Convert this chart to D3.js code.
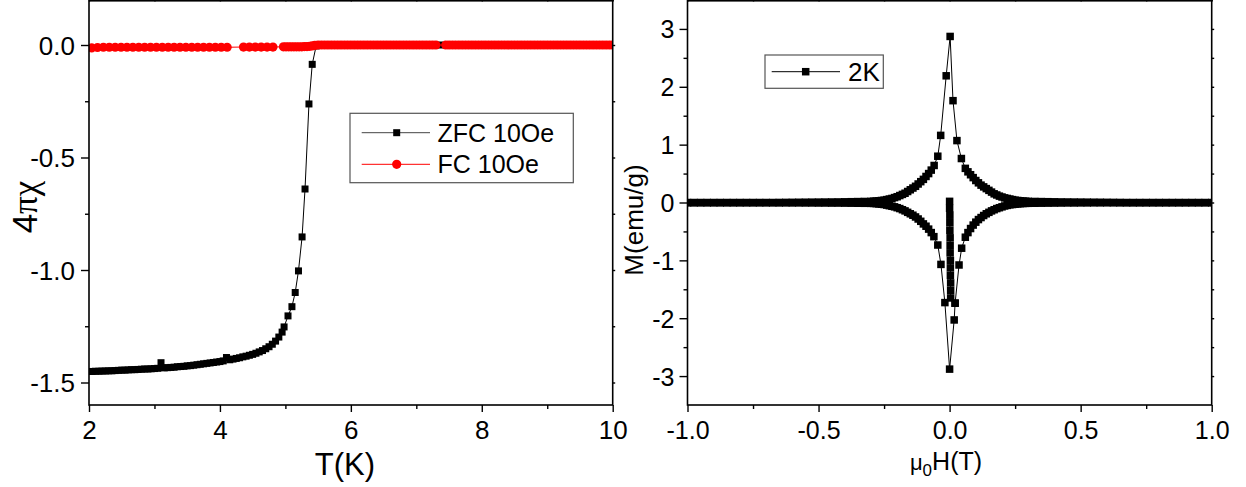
<!DOCTYPE html>
<html><head><meta charset="utf-8">
<script src="https://cdn.jsdelivr.net/npm/d3@7"></script>
<style>
body{margin:0;background:#fff}
svg{display:block}
text{font-family:"Liberation Sans",Arial,sans-serif;fill:#000}
</style>
</head><body>
<svg id="chart" width="1246" height="487"></svg>
<script>
// ---------------- DATA ----------------
// Left panel: 4πχ vs T (K)
const zfcPoints = [
[2.00,-1.451],[2.05,-1.451],[2.10,-1.450],[2.15,-1.450],[2.20,-1.449],[2.25,-1.449],[2.30,-1.448],[2.35,-1.448],[2.40,-1.447],[2.45,-1.446],
[2.50,-1.445],[2.55,-1.445],[2.60,-1.444],[2.65,-1.443],[2.70,-1.443],[2.75,-1.442],[2.80,-1.441],[2.85,-1.440],[2.90,-1.440],[2.95,-1.439],
[3.00,-1.438],[3.05,-1.437],[3.10,-1.412],[3.15,-1.435],[3.20,-1.434],[3.25,-1.433],[3.30,-1.432],[3.35,-1.430],[3.40,-1.429],[3.45,-1.428],
[3.50,-1.426],[3.55,-1.425],[3.60,-1.423],[3.65,-1.421],[3.70,-1.419],[3.75,-1.417],[3.80,-1.415],[3.85,-1.413],[3.90,-1.411],[3.95,-1.409],
[4.00,-1.407],[4.05,-1.404],[4.10,-1.389],[4.15,-1.399],[4.20,-1.396],[4.25,-1.393],[4.30,-1.390],[4.35,-1.386],[4.40,-1.383],[4.45,-1.379],
[4.50,-1.375],[4.55,-1.370],[4.60,-1.364],[4.65,-1.358],[4.70,-1.350],[4.75,-1.341],[4.80,-1.330],[4.85,-1.316],[4.90,-1.298],[4.95,-1.276],
[4.98,-1.253],[5.04,-1.204],[5.10,-1.163],[5.15,-1.100],[5.20,-1.004],[5.255,-0.853],[5.30,-0.640],[5.36,-0.262],[5.41,-0.086],[5.47,-0.004],
[5.50,0],[5.75,0],[6.00,0],[6.25,0],[6.50,0],[6.75,0],[7.00,0],[7.36,0],[7.50,0],[7.75,0],
[8.00,0],[8.25,0],[8.50,0],[8.75,0],[9.00,0],[9.25,0],[9.50,0],[9.75,0],[10.00,0]
];
const fcPoints = [
[2.04,-0.013],[2.13,-0.011],[2.22,-0.010],[2.31,-0.010],[2.40,-0.010],[2.49,-0.010],[2.58,-0.010],[2.67,-0.010],[2.76,-0.010],[2.85,-0.010],
[2.94,-0.010],[3.03,-0.010],[3.12,-0.010],[3.21,-0.010],[3.30,-0.010],[3.39,-0.010],[3.48,-0.010],[3.57,-0.010],[3.66,-0.010],[3.75,-0.010],
[3.84,-0.010],[3.93,-0.010],[4.02,-0.010],[4.11,-0.010],
[4.36,-0.009],[4.45,-0.009],[4.54,-0.009],[4.63,-0.009],[4.72,-0.009],[4.81,-0.009],
[4.97,-0.008],[5.01,-0.008],[5.05,-0.008],[5.09,-0.008],[5.13,-0.008],[5.17,-0.008],[5.21,-0.008],[5.25,-0.008],[5.29,-0.007],[5.33,-0.007],
[5.37,-0.006],[5.41,-0.004],[5.45,-0.002],
[5.50,0],[5.55,0],[5.60,0],[5.65,0],[5.70,0],[5.75,0],[5.80,0],[5.85,0],[5.90,0],[5.95,0],
[6.00,0],[6.05,0],[6.10,0],[6.15,0],[6.20,0],[6.25,0],[6.30,0],[6.35,0],[6.40,0],[6.45,0],
[6.50,0],[6.55,0],[6.60,0],[6.65,0],[6.70,0],[6.75,0],[6.80,0],[6.85,0],[6.90,0],[6.95,0],
[7.00,0],[7.05,0],[7.10,0],[7.15,0],[7.20,0],[7.25,0],[7.30,0],[7.45,0],
[7.50,0],[7.55,0],[7.60,0],[7.65,0],[7.70,0],[7.75,0],[7.80,0],[7.85,0],[7.90,0],[7.95,0],
[8.00,0],[8.05,0],[8.10,0],[8.15,0],[8.20,0],[8.25,0],[8.30,0],[8.35,0],[8.40,0],[8.45,0],
[8.50,0],[8.55,0],[8.60,0],[8.65,0],[8.70,0],[8.75,0],[8.80,0],[8.85,0],[8.90,0],[8.95,0],
[9.00,0],[9.05,0],[9.10,0],[9.15,0],[9.20,0],[9.25,0],[9.30,0],[9.35,0],[9.40,0],[9.45,0],
[9.50,0],[9.55,0],[9.60,0],[9.65,0],[9.70,0],[9.75,0],[9.80,0],[9.85,0],[9.90,0],[9.95,0],[10.00,0]
];
const tempTicks = [2,4,6,8,10];
const tempTickLabels = ["2","4","6","8","10"];
const tempMinorTicks = [3,5,7,9];
const chiTicks = [-1.5,-1.0,-0.5,0.0];
const chiTickLabels = ["-1.5","-1.0","-0.5","0.0"];
const chiMinorTicks = [-1.25,-0.75,-0.25];

// Right panel: M (emu/g) vs μ0H (T) at 2K
const virginCurve = [
[0.000,0.02],[0.000,-0.10],[0.001,-0.22],[0.001,-0.35],[0.001,-0.48],[0.002,-0.61],[0.002,-0.74],
[0.002,-0.87],[0.003,-1.00],[0.003,-1.13],[0.003,-1.26],[0.004,-1.39],[0.004,-1.52],[0.004,-1.65]
];
const ascendingRight = [
[0.021,-1.74],[0.036,-1.08],[0.046,-0.79],[0.06,-0.60],[0.07,-0.52],[0.08,-0.45],[0.09,-0.39],[0.10,-0.34],
[0.11,-0.295],[0.12,-0.26],[0.13,-0.225],[0.14,-0.195],[0.15,-0.17],[0.16,-0.145],[0.17,-0.125],[0.18,-0.105],
[0.19,-0.09],[0.20,-0.075],[0.21,-0.06],[0.22,-0.05],[0.23,-0.04],[0.24,-0.035],[0.25,-0.03],[0.26,-0.025],
[0.27,-0.02],[0.28,-0.017],[0.29,-0.015],
[0.300,-0.014],[0.325,-0.013],[0.350,-0.012],[0.375,-0.011],[0.400,-0.010],[0.425,-0.009],[0.450,-0.008],
[0.475,-0.008],[0.500,-0.007],[0.525,-0.007],[0.550,-0.006],[0.575,-0.006],[0.600,-0.005],[0.625,-0.005],
[0.650,-0.005],[0.675,-0.005],[0.700,-0.005],[0.725,-0.005],[0.750,-0.005],[0.775,-0.005],[0.800,-0.005],
[0.825,-0.005],[0.850,-0.005],[0.875,-0.005],[0.900,-0.005],[0.925,-0.005],[0.950,-0.005],[0.975,-0.005],[1.000,-0.005]
];
const descendingBranch = [
[1.000,0.000],[0.975,0.000],[0.950,0.000],[0.925,0.000],[0.900,0.000],[0.875,0.000],[0.850,0.000],[0.825,0.000],
[0.800,0.000],[0.775,0.000],[0.750,0.000],[0.725,0.000],[0.700,0.000],[0.675,0.000],[0.650,0.001],[0.625,0.002],
[0.600,0.003],[0.575,0.004],[0.550,0.005],[0.525,0.006],[0.500,0.007],[0.475,0.008],[0.450,0.009],[0.425,0.010],
[0.400,0.012],[0.375,0.014],[0.350,0.016],[0.325,0.018],[0.300,0.020],
[0.29,0.022],[0.28,0.025],[0.27,0.030],[0.26,0.035],[0.25,0.040],[0.24,0.050],[0.23,0.060],[0.22,0.070],
[0.21,0.080],[0.20,0.095],[0.19,0.110],[0.18,0.130],[0.17,0.150],[0.16,0.180],[0.15,0.210],[0.14,0.240],
[0.13,0.270],[0.12,0.300],[0.11,0.340],[0.10,0.380],[0.09,0.430],[0.08,0.480],[0.07,0.530],
[0.060,0.59],[0.045,0.76],[0.028,1.07],[0.013,1.76],[0.002,2.87],[-0.013,2.19],[-0.034,1.16],[-0.045,0.80],[-0.059,0.64],
[-0.07,0.56],[-0.08,0.50],[-0.09,0.45],[-0.10,0.40],[-0.11,0.36],[-0.12,0.32],[-0.13,0.28],[-0.14,0.25],
[-0.15,0.22],[-0.16,0.19],[-0.17,0.16],[-0.18,0.14],[-0.19,0.12],[-0.20,0.10],[-0.21,0.085],[-0.22,0.070],
[-0.23,0.060],[-0.24,0.050],[-0.25,0.040],[-0.26,0.035],[-0.27,0.030],[-0.28,0.025],[-0.29,0.022],
[-0.300,0.020],[-0.325,0.018],[-0.350,0.016],[-0.375,0.014],[-0.400,0.012],[-0.425,0.010],[-0.450,0.009],
[-0.475,0.008],[-0.500,0.007],[-0.525,0.006],[-0.550,0.005],[-0.575,0.004],[-0.600,0.003],[-0.625,0.002],
[-0.650,0.001],[-0.675,0.000],[-0.700,0.000],[-0.725,0.000],[-0.750,0.000],[-0.775,0.000],[-0.800,0.000],
[-0.825,0.000],[-0.850,0.000],[-0.875,0.000],[-0.900,0.000],[-0.925,0.000],[-0.950,0.000],[-0.975,0.000],[-1.000,0.000]
];
const ascendingLeft = [
[-1.000,-0.005],[-0.975,-0.005],[-0.950,-0.005],[-0.925,-0.005],[-0.900,-0.005],[-0.875,-0.005],[-0.850,-0.005],
[-0.825,-0.005],[-0.800,-0.005],[-0.775,-0.005],[-0.750,-0.005],[-0.725,-0.005],[-0.700,-0.005],[-0.675,-0.005],
[-0.650,-0.006],[-0.625,-0.006],[-0.600,-0.007],[-0.575,-0.007],[-0.550,-0.008],[-0.525,-0.008],[-0.500,-0.009],
[-0.475,-0.009],[-0.450,-0.010],[-0.425,-0.010],[-0.400,-0.011],[-0.375,-0.012],[-0.350,-0.013],[-0.325,-0.014],[-0.300,-0.015],
[-0.29,-0.016],[-0.28,-0.020],[-0.27,-0.025],[-0.26,-0.030],[-0.25,-0.035],[-0.24,-0.045],[-0.23,-0.055],[-0.22,-0.065],
[-0.21,-0.075],[-0.20,-0.090],[-0.19,-0.105],[-0.18,-0.125],[-0.17,-0.145],[-0.16,-0.170],[-0.15,-0.195],[-0.14,-0.220],
[-0.13,-0.250],[-0.12,-0.285],[-0.11,-0.325],[-0.10,-0.370],[-0.09,-0.410],[-0.08,-0.460],[-0.07,-0.520],[-0.06,-0.590],
[-0.045,-0.735],[-0.033,-1.07],[-0.018,-1.73],[0.000,-2.88],[0.0175,-2.03],[0.021,-1.74]
];
const fieldTicks = [-1,-0.5,0,0.5,1];
const fieldTickLabels = ["-1.0","-0.5","0.0","0.5","1.0"];
const fieldMinorTicks = [-0.75,-0.25,0.25,0.75];
const momentTicks = [-3,-2,-1,0,1,2,3];
const momentTickLabels = ["-3","-2","-1","0","1","2","3"];
const momentMinorTicks = [-2.5,-1.5,-0.5,0.5,1.5,2.5];

// ---------------- DRAW ----------------
const svg = d3.select("#chart");
const FONT = '"Liberation Sans",Arial,sans-serif';

function drawAxes(g, x, y, o) {
  const bottom = y.range()[0], top = y.range()[1];
  const left = x.range()[0], right = x.range()[1];
  const clean = s => { s.select(".domain").remove(); s.attr("font-family", FONT).attr("font-size", null);
                       s.selectAll("line").attr("stroke", "#000").attr("stroke-width", 1.4); };
  // bottom
  g.append("g").attr("transform", `translate(0,${bottom})`)
    .call(d3.axisBottom(x).tickValues(o.xMinor).tickSize(4).tickFormat("")).call(clean);
  g.append("g").attr("transform", `translate(0,${bottom})`)
    .call(d3.axisBottom(x).tickValues(o.xMajor).tickSize(7).tickFormat((d, i) => o.xLabels[i])).call(clean)
    .selectAll("text").attr("y", 34).attr("dy", 0).style("font-size", o.tickFont + "px");
  // left
  g.append("g").attr("transform", `translate(${left},0)`)
    .call(d3.axisLeft(y).tickValues(o.yMinor).tickSize(4).tickFormat("")).call(clean);
  g.append("g").attr("transform", `translate(${left},0)`)
    .call(d3.axisLeft(y).tickValues(o.yMajor).tickSize(8).tickFormat((d, i) => o.yLabels[i])).call(clean)
    .selectAll("text").attr("x", o.yLabelX).attr("dy", "0.36em").style("font-size", o.tickFont + "px");
  // top (short, outward)
  g.append("g").attr("transform", `translate(0,${top + 1.5})`)
    .call(d3.axisTop(x).tickValues(o.xMajor.concat(o.xMinor)).tickSize(3).tickFormat("")).call(clean);
  // right (short, outward)
  g.append("g").attr("transform", `translate(${right},0)`)
    .call(d3.axisRight(y).tickValues(o.yMajor.concat(o.yMinor)).tickSize(2.5).tickFormat("")).call(clean);
  // frame
  g.append("rect").attr("x", left).attr("y", top + 0.8).attr("width", right - left).attr("height", bottom - top - 0.8)
    .attr("fill", "none").attr("stroke", "#000").attr("stroke-width", 1.6);
}

function squares(g, data, x, y, size, color) {
  g.selectAll(null).data(data).join("rect")
    .attr("x", d => x(d[0]) - size / 2).attr("y", d => y(d[1]) - size / 2)
    .attr("width", size).attr("height", size).attr("fill", color);
}
function circles(g, data, x, y, r, color) {
  g.selectAll(null).data(data).join("circle")
    .attr("cx", d => x(d[0])).attr("cy", d => y(d[1])).attr("r", r).attr("fill", color);
}

// ----- Left panel -----
const xT = d3.scaleLinear().domain([2, 10]).range([89, 612.7]);
const yChi = d3.scaleLinear().domain([-1.6, 0.2]).range([405, 0]);
const gL = svg.append("g");
const defs = svg.append("defs");
defs.append("clipPath").attr("id", "clipL").append("rect").attr("x", 89).attr("y", 0).attr("width", 524).attr("height", 405);
defs.append("clipPath").attr("id", "clipR").append("rect").attr("x", 687.5).attr("y", 0).attr("width", 524.2).attr("height", 405);

const dataL = gL.append("g").attr("clip-path", "url(#clipL)");
const lineL = d3.line().x(d => xT(d[0])).y(d => yChi(d[1]));
dataL.append("path").datum(zfcPoints).attr("d", lineL).attr("fill", "none").attr("stroke", "#000").attr("stroke-width", 1);
squares(dataL.append("g"), zfcPoints, xT, yChi, 7, "#000");
dataL.append("path").datum(fcPoints).attr("d", lineL).attr("fill", "none").attr("stroke", "#ff0000").attr("stroke-width", 1);
circles(dataL.append("g"), fcPoints, xT, yChi, 4.6, "#ff0000");

drawAxes(gL, xT, yChi, { xMajor: tempTicks, xLabels: tempTickLabels, xMinor: tempMinorTicks,
  yMajor: chiTicks, yLabels: chiTickLabels, yMinor: chiMinorTicks, tickFont: 26, yLabelX: -14 });

gL.append("text").attr("x", 345).attr("y", 475).attr("text-anchor", "middle").style("font-size", "31px").text("T(K)");
const chiLabel = gL.append("text").attr("transform", "translate(37,207) rotate(-90)").attr("text-anchor", "middle").style("font-size", "35px");
chiLabel.append("tspan").text("4");
chiLabel.append("tspan").style("font-family", '"Liberation Serif","Times New Roman",serif').text("πχ");

// legend left
const legL = gL.append("g");
legL.append("rect").attr("x", 350).attr("y", 113.3).attr("width", 223.3).attr("height", 69.4)
  .attr("fill", "#fff").attr("stroke", "#555").attr("stroke-width", 1.2);
[[132.7, "#000", "sq", "ZFC 10Oe", "#444"], [164.3, "#ff0000", "ci", "FC 10Oe", "#ff0000"]].forEach(r => {
  legL.append("line").attr("x1", 361.7).attr("x2", 430).attr("y1", r[0]).attr("y2", r[0]).attr("stroke", r[4]).attr("stroke-width", 1);
  if (r[2] === "sq") legL.append("rect").attr("x", 396.7 - 3.5).attr("y", r[0] - 3.5).attr("width", 7).attr("height", 7).attr("fill", r[1]);
  else legL.append("circle").attr("cx", 396.7).attr("cy", r[0]).attr("r", 4.6).attr("fill", r[1]);
  legL.append("text").attr("x", 437.5).attr("y", r[0] + 9).style("font-size", "25px").text(r[3]);
});

// ----- Right panel -----
const xH = d3.scaleLinear().domain([-1, 1]).range([687.5, 1211.7]);
const yM = d3.scaleLinear().domain([-3.5, 3.5]).range([405, 0]);
const gR = svg.append("g");
const dataR = gR.append("g").attr("clip-path", "url(#clipR)");
const mhSeries = virginCurve.concat(ascendingRight, descendingBranch, ascendingLeft);
const lineR = d3.line().x(d => xH(d[0])).y(d => yM(d[1]));
dataR.append("path").datum(mhSeries).attr("d", lineR).attr("fill", "none").attr("stroke", "#000").attr("stroke-width", 1);
squares(dataR.append("g"), mhSeries, xH, yM, 7.5, "#000");

drawAxes(gR, xH, yM, { xMajor: fieldTicks, xLabels: fieldTickLabels, xMinor: fieldMinorTicks,
  yMajor: momentTicks, yLabels: momentTickLabels, yMinor: momentMinorTicks, tickFont: 25, yLabelX: -13 });

const hLabel = gR.append("text").attr("x", 946).attr("y", 470).attr("text-anchor", "middle").style("font-size", "25px");
hLabel.append("tspan").style("font-size", "22px").text("μ");
hLabel.append("tspan").attr("dy", 6).style("font-size", "17px").text("0");
hLabel.append("tspan").attr("dy", -6).text("H(T)");
gR.append("text").attr("transform", "translate(643,220) rotate(-90)").attr("text-anchor", "middle").style("font-size", "26px").text("M(emu/g)");

// legend right
const legR = gR.append("g");
legR.append("rect").attr("x", 765).attr("y", 55).attr("width", 118.3).attr("height", 33.3)
  .attr("fill", "#fff").attr("stroke", "#555").attr("stroke-width", 1.2);
legR.append("line").attr("x1", 771.7).attr("x2", 840).attr("y1", 71.7).attr("y2", 71.7).attr("stroke", "#000").attr("stroke-width", 1);
legR.append("rect").attr("x", 805.7 - 3.75).attr("y", 71.7 - 3.75).attr("width", 7.5).attr("height", 7.5).attr("fill", "#000");
legR.append("text").attr("x", 848).attr("y", 81.2).style("font-size", "26px").text("2K");
</script>
</body></html>
